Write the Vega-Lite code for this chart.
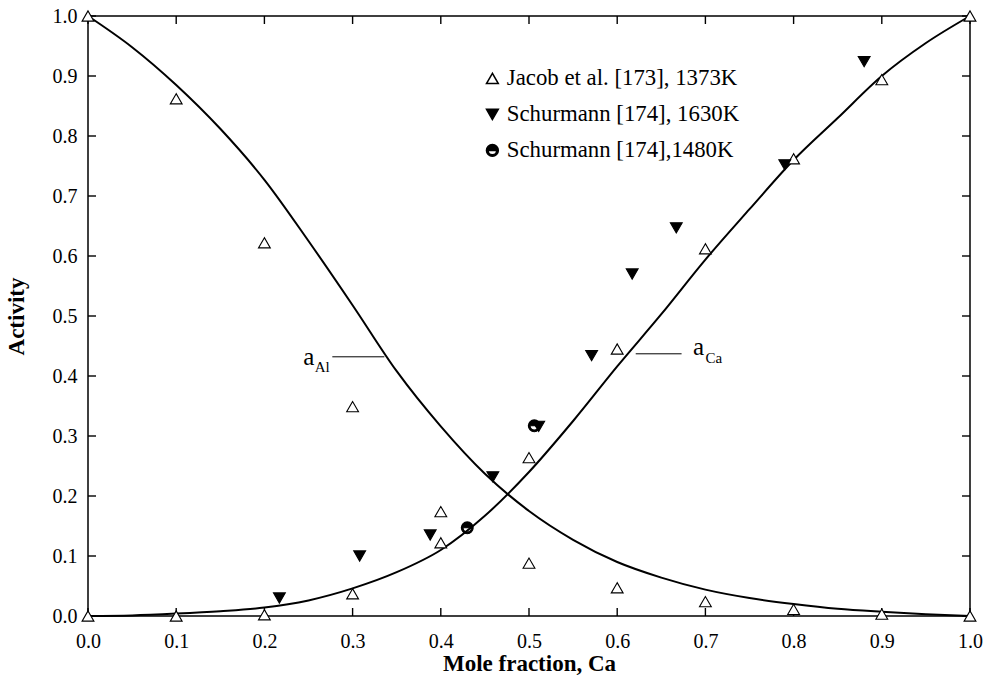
{
  "$schema": "https://vega.github.io/schema/vega-lite/v6.json",
  "width": 882,
  "height": 600,
  "autosize": {"type": "none"},
  "padding": {"left": 88, "top": 16, "right": 16, "bottom": 63},
  "background": "white",
  "config": {
    "font": "Liberation Serif",
    "view": {"stroke": "black", "strokeWidth": 1.5},
    "axis": {
      "grid": false,
      "domain": false,
      "ticks": false,
      "labelFont": "Liberation Serif",
      "labelFontSize": 20,
      "labelColor": "black",
      "labelFlush": false,
      "labelOverlap": false,
      "titleFont": "Liberation Serif",
      "titleFontSize": 23,
      "titleFontWeight": "bold",
      "titleColor": "black"
    }
  },
  "datasets": {
    "ticks": [
      {"v": 0.0}, {"v": 0.1}, {"v": 0.2}, {"v": 0.3}, {"v": 0.4}, {"v": 0.5},
      {"v": 0.6}, {"v": 0.7}, {"v": 0.8}, {"v": 0.9}, {"v": 1.0}
    ],
    "curves": [
      {"x": 0.0, "a": 1.0, "curve": "a_Al"},
      {"x": 0.05, "a": 0.948, "curve": "a_Al"},
      {"x": 0.1, "a": 0.885, "curve": "a_Al"},
      {"x": 0.15, "a": 0.812, "curve": "a_Al"},
      {"x": 0.2, "a": 0.727, "curve": "a_Al"},
      {"x": 0.25, "a": 0.625, "curve": "a_Al"},
      {"x": 0.3, "a": 0.518, "curve": "a_Al"},
      {"x": 0.35, "a": 0.408, "curve": "a_Al"},
      {"x": 0.4, "a": 0.316, "curve": "a_Al"},
      {"x": 0.45, "a": 0.237, "curve": "a_Al"},
      {"x": 0.5, "a": 0.175, "curve": "a_Al"},
      {"x": 0.55, "a": 0.127, "curve": "a_Al"},
      {"x": 0.6, "a": 0.09, "curve": "a_Al"},
      {"x": 0.65, "a": 0.064, "curve": "a_Al"},
      {"x": 0.7, "a": 0.044, "curve": "a_Al"},
      {"x": 0.75, "a": 0.03, "curve": "a_Al"},
      {"x": 0.8, "a": 0.02, "curve": "a_Al"},
      {"x": 0.85, "a": 0.012, "curve": "a_Al"},
      {"x": 0.9, "a": 0.007, "curve": "a_Al"},
      {"x": 0.95, "a": 0.003, "curve": "a_Al"},
      {"x": 1.0, "a": 0.0, "curve": "a_Al"},
      {"x": 0.0, "a": 0.0, "curve": "a_Ca"},
      {"x": 0.05, "a": 0.001, "curve": "a_Ca"},
      {"x": 0.1, "a": 0.004, "curve": "a_Ca"},
      {"x": 0.15, "a": 0.008, "curve": "a_Ca"},
      {"x": 0.2, "a": 0.014, "curve": "a_Ca"},
      {"x": 0.25, "a": 0.026, "curve": "a_Ca"},
      {"x": 0.3, "a": 0.046, "curve": "a_Ca"},
      {"x": 0.35, "a": 0.073, "curve": "a_Ca"},
      {"x": 0.4, "a": 0.11, "curve": "a_Ca"},
      {"x": 0.45, "a": 0.167, "curve": "a_Ca"},
      {"x": 0.5, "a": 0.24, "curve": "a_Ca"},
      {"x": 0.55, "a": 0.325, "curve": "a_Ca"},
      {"x": 0.6, "a": 0.416, "curve": "a_Ca"},
      {"x": 0.65, "a": 0.503, "curve": "a_Ca"},
      {"x": 0.7, "a": 0.594, "curve": "a_Ca"},
      {"x": 0.75, "a": 0.678, "curve": "a_Ca"},
      {"x": 0.8, "a": 0.76, "curve": "a_Ca"},
      {"x": 0.85, "a": 0.83, "curve": "a_Ca"},
      {"x": 0.9, "a": 0.9, "curve": "a_Ca"},
      {"x": 0.95, "a": 0.955, "curve": "a_Ca"},
      {"x": 1.0, "a": 1.0, "curve": "a_Ca"}
    ],
    "pts": [
      {"x": 0.0, "a": 1.0, "source": "Jacob et al. [173], 1373K"},
      {"x": 0.0, "a": 0.0, "source": "Jacob et al. [173], 1373K"},
      {"x": 0.1, "a": 0.862, "source": "Jacob et al. [173], 1373K"},
      {"x": 0.1, "a": 0.0, "source": "Jacob et al. [173], 1373K"},
      {"x": 0.2, "a": 0.622, "source": "Jacob et al. [173], 1373K"},
      {"x": 0.2, "a": 0.002, "source": "Jacob et al. [173], 1373K"},
      {"x": 0.3, "a": 0.349, "source": "Jacob et al. [173], 1373K"},
      {"x": 0.3, "a": 0.037, "source": "Jacob et al. [173], 1373K"},
      {"x": 0.4, "a": 0.174, "source": "Jacob et al. [173], 1373K"},
      {"x": 0.4, "a": 0.122, "source": "Jacob et al. [173], 1373K"},
      {"x": 0.5, "a": 0.264, "source": "Jacob et al. [173], 1373K"},
      {"x": 0.5, "a": 0.088, "source": "Jacob et al. [173], 1373K"},
      {"x": 0.6, "a": 0.445, "source": "Jacob et al. [173], 1373K"},
      {"x": 0.6, "a": 0.047, "source": "Jacob et al. [173], 1373K"},
      {"x": 0.7, "a": 0.612, "source": "Jacob et al. [173], 1373K"},
      {"x": 0.7, "a": 0.024, "source": "Jacob et al. [173], 1373K"},
      {"x": 0.8, "a": 0.762, "source": "Jacob et al. [173], 1373K"},
      {"x": 0.8, "a": 0.011, "source": "Jacob et al. [173], 1373K"},
      {"x": 0.9, "a": 0.894, "source": "Jacob et al. [173], 1373K"},
      {"x": 0.9, "a": 0.003, "source": "Jacob et al. [173], 1373K"},
      {"x": 1.0, "a": 1.0, "source": "Jacob et al. [173], 1373K"},
      {"x": 1.0, "a": 0.0, "source": "Jacob et al. [173], 1373K"},
      {"x": 0.217, "a": 0.03, "source": "Schurmann [174], 1630K"},
      {"x": 0.308, "a": 0.1, "source": "Schurmann [174], 1630K"},
      {"x": 0.388, "a": 0.135, "source": "Schurmann [174], 1630K"},
      {"x": 0.459, "a": 0.232, "source": "Schurmann [174], 1630K"},
      {"x": 0.511, "a": 0.316, "source": "Schurmann [174], 1630K"},
      {"x": 0.571, "a": 0.434, "source": "Schurmann [174], 1630K"},
      {"x": 0.617, "a": 0.57, "source": "Schurmann [174], 1630K"},
      {"x": 0.667, "a": 0.647, "source": "Schurmann [174], 1630K"},
      {"x": 0.79, "a": 0.752, "source": "Schurmann [174], 1630K"},
      {"x": 0.88, "a": 0.924, "source": "Schurmann [174], 1630K"},
      {"x": 0.43, "a": 0.147, "source": "Schurmann [174],1480K"},
      {"x": 0.506, "a": 0.317, "source": "Schurmann [174],1480K"}
    ],
    "labMain": [
      {"x": 0.244, "y": 0.418, "t": "a"},
      {"x": 0.686, "y": 0.435, "t": "a"}
    ],
    "labSub": [
      {"x": 0.257, "y": 0.407, "t": "Al"},
      {"x": 0.7, "y": 0.422, "t": "Ca"}
    ],
    "leaders": [
      {"x": 0.277, "x2": 0.336, "y": 0.432},
      {"x": 0.621, "x2": 0.673, "y": 0.437}
    ]
  },
  "resolve": {"axis": {"x": "independent", "y": "independent"}},
  "layer": [
    {
      "data": {"name": "curves"},
      "mark": {"type": "line", "color": "black", "strokeWidth": 2, "interpolate": "monotone"},
      "encoding": {
        "x": {
          "field": "x", "type": "quantitative",
          "scale": {"domain": [0, 1], "nice": false, "zero": false},
          "axis": {"orient": "bottom", "values": [0, 0.1, 0.2, 0.3, 0.4, 0.5, 0.6, 0.7, 0.8, 0.9, 1.0], "format": ".1f", "labelPadding": 15, "title": "Mole fraction, Ca", "titlePadding": 1}
        },
        "y": {
          "field": "a", "type": "quantitative",
          "scale": {"domain": [0, 1], "nice": false, "zero": false},
          "axis": {"orient": "left", "values": [0, 0.1, 0.2, 0.3, 0.4, 0.5, 0.6, 0.7, 0.8, 0.9, 1.0], "format": ".1f", "labelPadding": 11, "title": "Activity", "titlePadding": 24}
        },
        "detail": {"field": "curve", "type": "nominal"}
      }
    },
    {
      "data": {"name": "ticks"},
      "mark": {"type": "rule", "color": "black", "strokeWidth": 1.4},
      "encoding": {
        "x": {"field": "v", "type": "quantitative", "scale": {"domain": [0, 1], "nice": false, "zero": false}, "axis": null},
        "y": {"datum": 0, "type": "quantitative", "scale": {"domain": [0, 1], "nice": false, "zero": false}, "axis": null},
        "y2": {"datum": 0.0133}
      }
    },
    {
      "data": {"name": "ticks"},
      "mark": {"type": "rule", "color": "black", "strokeWidth": 1.4},
      "encoding": {
        "x": {"field": "v", "type": "quantitative", "scale": {"domain": [0, 1], "nice": false, "zero": false}, "axis": null},
        "y": {"datum": 1, "type": "quantitative", "scale": {"domain": [0, 1], "nice": false, "zero": false}, "axis": null},
        "y2": {"datum": 0.9867}
      }
    },
    {
      "data": {"name": "ticks"},
      "mark": {"type": "rule", "color": "black", "strokeWidth": 1.4},
      "encoding": {
        "y": {"field": "v", "type": "quantitative", "scale": {"domain": [0, 1], "nice": false, "zero": false}, "axis": null},
        "x": {"datum": 0, "type": "quantitative", "scale": {"domain": [0, 1], "nice": false, "zero": false}, "axis": null},
        "x2": {"datum": 0.0091}
      }
    },
    {
      "data": {"name": "ticks"},
      "mark": {"type": "rule", "color": "black", "strokeWidth": 1.4},
      "encoding": {
        "y": {"field": "v", "type": "quantitative", "scale": {"domain": [0, 1], "nice": false, "zero": false}, "axis": null},
        "x": {"datum": 1, "type": "quantitative", "scale": {"domain": [0, 1], "nice": false, "zero": false}, "axis": null},
        "x2": {"datum": 0.9909}
      }
    },
    {
      "data": {"name": "pts"},
      "mark": {"type": "point", "filled": true, "stroke": "black", "strokeWidth": 1.1, "size": 140, "opacity": 1, "clip": false},
      "encoding": {
        "x": {"field": "x", "type": "quantitative", "scale": {"domain": [0, 1], "nice": false, "zero": false}, "axis": null},
        "y": {"field": "a", "type": "quantitative", "scale": {"domain": [0, 1], "nice": false, "zero": false}, "axis": null},
        "shape": {
          "field": "source", "type": "nominal",
          "scale": {
            "domain": ["Jacob et al. [173], 1373K", "Schurmann [174], 1630K", "Schurmann [174],1480K"],
            "range": ["triangle-up", "triangle-down", "M-1,0A1,1,0,0,1,1,0A1,1,0,0,1,-1,0L-0.72,0A0.72,0.72,0,0,0,0.72,0Z"]
          },
          "legend": {"title": null, "orient": "none", "legendX": 393, "legendY": 51, "padding": 0, "labelFont": "Liberation Serif", "labelFontSize": 22.8, "labelColor": "black", "labelLimit": 0, "labelOffset": 3, "symbolSize": 140, "rowPadding": 12, "encode": {"symbols": {"update": {"stroke": {"value": "black"}, "strokeWidth": {"value": 1.1}}}}}
        },
        "fill": {
          "field": "source", "type": "nominal",
          "scale": {
            "domain": ["Jacob et al. [173], 1373K", "Schurmann [174], 1630K", "Schurmann [174],1480K"],
            "range": ["white", "black", "black"]
          },
          "legend": {"title": null, "orient": "none", "legendX": 393, "legendY": 51, "padding": 0, "labelFont": "Liberation Serif", "labelFontSize": 22.8, "labelColor": "black", "labelLimit": 0, "labelOffset": 3, "symbolSize": 140, "rowPadding": 12, "encode": {"symbols": {"update": {"stroke": {"value": "black"}, "strokeWidth": {"value": 1.1}}}}}
        }
      }
    },
    {
      "data": {"name": "leaders"},
      "mark": {"type": "rule", "color": "black", "strokeWidth": 1},
      "encoding": {
        "x": {"field": "x", "type": "quantitative", "scale": {"domain": [0, 1], "nice": false, "zero": false}, "axis": null},
        "x2": {"field": "x2"},
        "y": {"field": "y", "type": "quantitative", "scale": {"domain": [0, 1], "nice": false, "zero": false}, "axis": null}
      }
    },
    {
      "data": {"name": "labMain"},
      "mark": {"type": "text", "align": "left", "baseline": "alphabetic", "font": "Liberation Serif", "fontSize": 25, "color": "black"},
      "encoding": {
        "x": {"field": "x", "type": "quantitative", "scale": {"domain": [0, 1], "nice": false, "zero": false}, "axis": null},
        "y": {"field": "y", "type": "quantitative", "scale": {"domain": [0, 1], "nice": false, "zero": false}, "axis": null},
        "text": {"field": "t"}
      }
    },
    {
      "data": {"name": "labSub"},
      "mark": {"type": "text", "align": "left", "baseline": "alphabetic", "font": "Liberation Serif", "fontSize": 15, "color": "black"},
      "encoding": {
        "x": {"field": "x", "type": "quantitative", "scale": {"domain": [0, 1], "nice": false, "zero": false}, "axis": null},
        "y": {"field": "y", "type": "quantitative", "scale": {"domain": [0, 1], "nice": false, "zero": false}, "axis": null},
        "text": {"field": "t"}
      }
    }
  ]
}
